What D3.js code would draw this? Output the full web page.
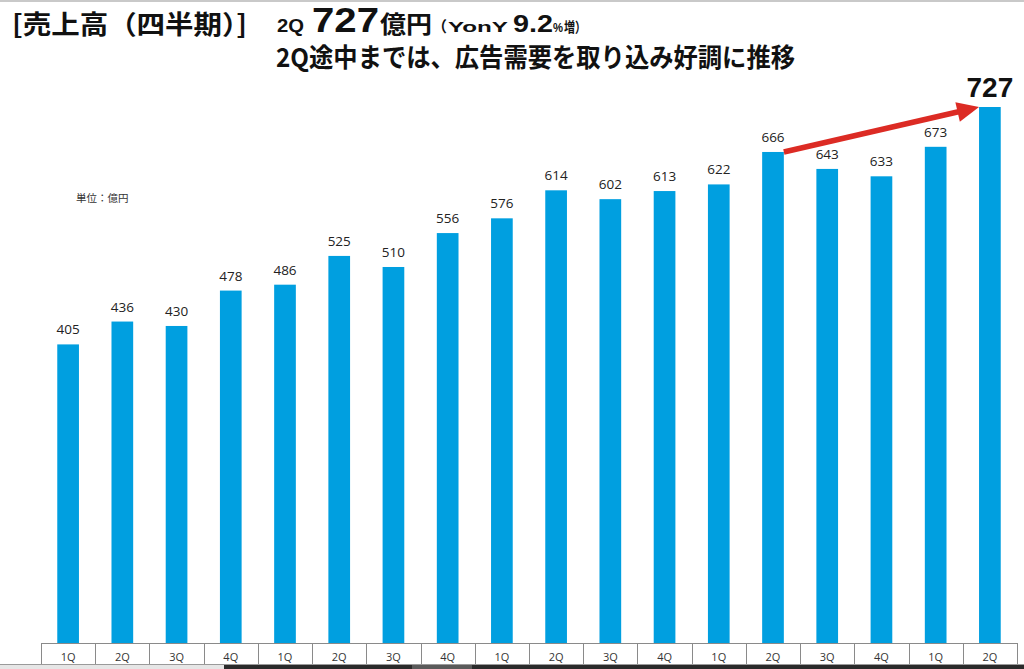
<!DOCTYPE html>
<html>
<head>
<meta charset="utf-8">
<script src="https://cdn.jsdelivr.net/npm/d3@7"></script>
<style>
html,body{margin:0;padding:0;background:#fff;}
svg{display:block;}
</style>
</head>
<body>
<svg id="chart" width="1024" height="669"></svg>
<script>
// ---- data ----
const quarters = ["1Q","2Q","3Q","4Q","1Q","2Q","3Q","4Q","1Q","2Q","3Q","4Q","1Q","2Q","3Q","4Q","1Q","2Q"];
const sales = [405,436,430,478,486,525,510,556,576,614,602,613,622,666,643,633,673,727];
const arrowFrom = 13;   // index of 666
const arrowTo = 17;     // index of 727
const unitLabel = "単位：億円";

const svg = d3.select("#chart");
const W = 1024, H = 669;
const left = 41, right = 1017, base = 643, boxBottom = 664;

const idx = d3.range(quarters.length);
const x = d3.scaleBand().domain(idx).range([left, right]).paddingInner(0.6).paddingOuter(0.3);
const xBox = d3.scaleBand().domain(idx).range([left, right]).padding(0);
const y = d3.scaleLinear().domain([0, d3.max(sales)]).range([base, 107]);

// top border (screenshot frame)
svg.append("rect").attr("x",0).attr("y",0).attr("width",W).attr("height",2).attr("fill","#c9c9c9");

// bars
svg.append("g").selectAll("rect").data(sales).join("rect")
  .attr("x",(d,i)=>x(i)).attr("y",d=>y(d))
  .attr("width",x.bandwidth()).attr("height",d=>base-y(d))
  .attr("fill","#009fe0");

// value labels
const last = sales.length-1;
svg.append("g").selectAll("text").data(sales).join("text")
  .attr("x",(d,i)=>x(i)+x.bandwidth()/2)
  .attr("y",d=>y(d)-10)
  .attr("text-anchor","middle")
  .attr("font-family",(d,i)=> i===last ? "'Liberation Sans',sans-serif" : "'Open Sans','Noto Sans',sans-serif")
  .attr("font-size",(d,i)=> i===last ? 28 : 13.5)
  .attr("font-weight",(d,i)=> i===last ? 700 : 400)
  .attr("fill",(d,i)=> i===last ? "#111" : "#222")
  .text(d=>d);

// axis boxes
const axisG = svg.append("g").attr("transform",`translate(0,${base})`);
const axis = d3.axisBottom(xBox).tickSize(0).tickPadding(10.5).tickFormat(i=>quarters[i]);
axisG.call(axis);
axisG.select(".domain").attr("stroke","#8a8a8a").attr("stroke-width",1).attr("d",`M${left},0.5H${right}`);
axisG.selectAll(".tick text")
  .attr("font-family","'Open Sans','Noto Sans',sans-serif")
  .attr("font-size",11).attr("fill","#333");
const edges = idx.map(i=>xBox(i)).concat([right]);
axisG.selectAll("line.sep").data(edges).join("line").attr("class","sep")
  .attr("x1",d=>Math.round(d)+0.5).attr("x2",d=>Math.round(d)+0.5)
  .attr("y1",0).attr("y2",boxBottom-base)
  .attr("stroke","#8a8a8a").attr("stroke-width",1);

// bottom screenshot strip
svg.append("rect").attr("x",0).attr("y",boxBottom).attr("width",W).attr("height",1).attr("fill","#9a9a9a");
svg.append("rect").attr("x",0).attr("y",boxBottom+1).attr("width",224).attr("height",H-boxBottom-1).attr("fill","#e6e6e6");
svg.append("rect").attr("x",224).attr("y",boxBottom+1).attr("width",W-224).attr("height",H-boxBottom-1).attr("fill","#2a2a2a");
svg.append("rect").attr("x",412).attr("y",boxBottom+1).attr("width",60).attr("height",H-boxBottom-1).attr("fill","#5a5a5a");

// arrow
const x0 = x(arrowFrom)+x.bandwidth(), y0 = y(sales[arrowFrom]);
const x1 = x(arrowTo), y1 = y(sales[arrowTo]);
const ang = Math.atan2(y1-y0, x1-x0);
const headLen = 22, headW = 10;
const bx = x1 - headLen*Math.cos(ang), by = y1 - headLen*Math.sin(ang);
svg.append("line").attr("x1",x0).attr("y1",y0).attr("x2",bx+2*Math.cos(ang)).attr("y2",by+2*Math.sin(ang))
  .attr("stroke","#dc2b24").attr("stroke-width",5.5);
const px = -Math.sin(ang), py = Math.cos(ang);
svg.append("path")
  .attr("d",`M${x1},${y1}L${bx+px*headW},${by+py*headW}L${bx-px*headW},${by-py*headW}Z`)
  .attr("fill","#dc2b24");

// unit label
svg.append("text").attr("x",76).attr("y",202)
  .attr("font-family","'Noto Sans CJK JP',sans-serif").attr("font-size",10.5).attr("fill","#333")
  .text(unitLabel);

// titles
const jp = "'Noto Sans CJK JP',sans-serif";
const lat = "'Liberation Sans',sans-serif";
function t(txt, xx, yy, size, len, fam){
  return svg.append("text").attr("x",xx).attr("y",yy)
    .attr("font-family",fam||jp).attr("font-weight",700).attr("font-size",size).attr("fill","#111")
    .attr("textLength",len).attr("lengthAdjust","spacingAndGlyphs").text(txt);
}
t("[売上高（四半期）]", 12, 34, 26, 235);
t("2Q", 277, 32, 19, 27, lat);
t("727", 312, 32, 35, 67, lat);
t("億円", 380, 33, 24, 52);
t("（", 432, 32, 15, 15);
t("YonY", 448, 32, 15, 60, lat);
t("9.2", 513, 32, 23, 40, lat);
t("%", 553, 32, 13, 10, lat);
t("増）", 564, 32, 14, 22);
t("2Q途中までは、広告需要を取り込み好調に推移", 276, 67, 26, 519);
</script>
</body>
</html>
